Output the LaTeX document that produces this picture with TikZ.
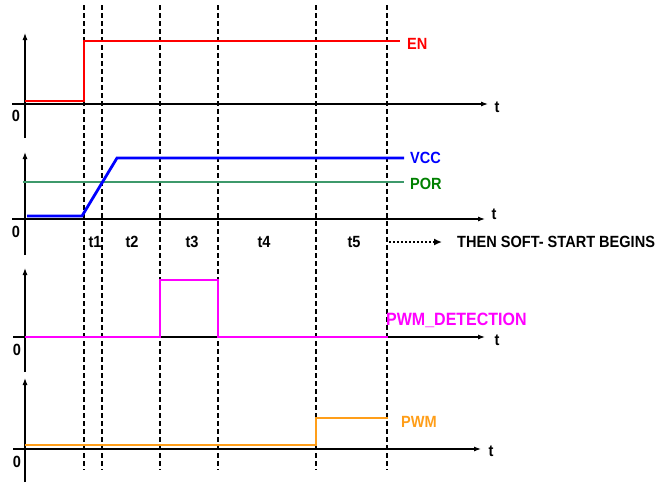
\documentclass[tikz,border=0pt]{standalone}
\usepackage{fontspec}
\usepackage{graphicx}
\setmainfont{Liberation Sans}
\usetikzlibrary{arrows.meta}
\definecolor{enred}{rgb}{1,0,0}
\definecolor{vccblue}{rgb}{0,0,1}
\definecolor{porline}{rgb}{0.24,0.6,0.42}
\definecolor{portext}{rgb}{0,0.5,0}
\definecolor{pwmdet}{rgb}{1,0,1}
\definecolor{pwmor}{rgb}{1,0.62,0.1}
\tikzset{
  axis/.style={line width=1.1pt,-{Latex[length=7pt,width=5pt]}},
  sig/.style={line width=2.8pt},
  guide/.style={line width=1.4pt,dash pattern=on 5pt off 3pt},
  lbl/.style={font=\fontsize{15}{15}\selectfont\bfseries,inner sep=0pt,anchor=west},
  tick/.style={font=\fontsize{15}{15}\selectfont\bfseries,inner sep=0pt},
}
\newcommand{\tall}[1]{\scalebox{0.97}[1.08]{#1}}
\begin{document}
\begin{tikzpicture}[x=1pt,y=-1pt]
\useasboundingbox (0,0) rectangle (662,483);
% vertical guides
\foreach \n/\xx in {g1/84,g2/102,g3/160,g4/218,g5/316,g6/387}{
  \coordinate (\n top) at (\xx,5);
  \coordinate (\n bot) at (\xx,470);
  \draw[guide] (\n top) -- (\n bot);
}
% ---------- panel 1 : EN
\coordinate (ay1b) at (25,138); \coordinate (ay1t) at (25,33);
\coordinate (ax1l) at (12,104); \coordinate (ax1r) at (488,104);
\draw[axis] (ay1b) -- (ay1t);
\draw[axis] (ax1l) -- (ax1r);
\node[tick] (t1lab) at (497,107) {\tall{t}};
\node[tick] (z1lab) at (16,116) {\tall{0}};
\draw[sig,enred] (25,101) -- (84,101) -- (84,41) -- (400,41);
\node[lbl,text=enred] (en) at (407,44) {\tall{EN}};
% ---------- panel 2 : VCC / POR
\coordinate (ay2b) at (25,255); \coordinate (ay2t) at (25,152);
\coordinate (ax2l) at (12,219); \coordinate (ax2r) at (485,219);
\draw[axis] (ay2b) -- (ay2t);
\draw[axis] (ax2l) -- (ax2r);
\node[tick] (t2lab) at (494,214) {\tall{t}};
\node[tick] (z2lab) at (16,232) {\tall{0}};
\draw[sig,porline] (23,182) -- (404,182);
\draw[sig,vccblue] (27,216) -- (82,216) -- (117,158) -- (404,158);
\node[lbl,text=vccblue] (vcc) at (410,158) {\tall{VCC}};
\node[lbl,text=portext] (por) at (410,184) {\tall{POR}};
% interval labels
\node[tick] (lt1) at (95,242) {\tall{t1}};
\node[tick] (lt2) at (132,242) {\tall{t2}};
\node[tick] (lt3) at (192,242) {\tall{t3}};
\node[tick] (lt4) at (264,242) {\tall{t4}};
\node[tick] (lt5) at (354,242) {\tall{t5}};
\coordinate (dots start) at (389,242);
\node[lbl] (soft) at (457,242) {\tall{THEN SOFT- START BEGINS}};
\draw[line width=2.4pt,dash pattern=on 2.4pt off 1.6pt,-{Latex[length=8pt,width=7pt]}] (dots start) -- (442,242);
% ---------- panel 3 : PWM_DETECTION
\coordinate (ay3b) at (25,372); \coordinate (ay3t) at (25,268);
\coordinate (ax3l) at (13,337); \coordinate (ax3r) at (485,337);
\draw[axis] (ay3b) -- (ay3t);
\draw[axis] (ax3l) -- (ax3r);
\node[tick] (t3lab) at (497,340) {\tall{t}};
\node[tick] (z3lab) at (17,350) {\tall{0}};
\draw[sig,pwmdet] (25,337) -- (160,337) -- (160,280) -- (218,280) -- (218,337) -- (388,337);
\node[lbl,text=pwmdet,font=\fontsize{16.5}{16.5}\selectfont\bfseries] (pwmdetlab) at (386,320) {\tall{PWM\_DETECTION}};
% ---------- panel 4 : PWM
\coordinate (ay4b) at (25,482); \coordinate (ay4t) at (25,378);
\coordinate (ax4l) at (13,449); \coordinate (ax4r) at (481,449);
\draw[axis] (ay4b) -- (ay4t);
\draw[axis] (ax4l) -- (ax4r);
\node[tick] (t4lab) at (491,451) {\tall{t}};
\node[tick] (z4lab) at (17,462) {\tall{0}};
\draw[sig,pwmor] (25,445) -- (316,445) -- (316,418) -- (388,418);
\node[lbl,text=pwmor] (pwmlab) at (401,422) {\tall{PWM}};
\end{tikzpicture}
\end{document}
